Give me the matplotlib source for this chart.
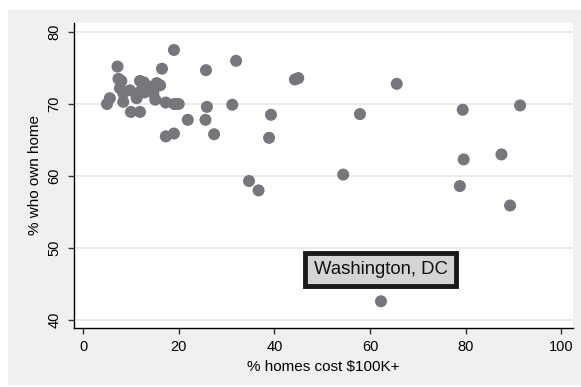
import matplotlib
matplotlib.use("Agg")
import matplotlib.pyplot as plt
from matplotlib.patches import Rectangle

# % homes cost $100K+ (x) and % who own home (y)
pct_homes_100k = [5.0, 5.6, 7.2, 7.4, 8.0, 7.7, 8.4, 8.4, 9.8, 10.0,
                  11.9, 11.9, 12.7, 11.2, 11.9, 14.0, 15.4, 16.1, 14.7, 15.1,
                  16.5, 17.3, 19.0, 19.1, 20.0, 17.3, 19.0, 21.9, 25.6, 25.9,
                  25.7, 27.4, 31.2, 32.0, 34.7, 36.7, 38.9, 39.3, 44.3, 45.0,
                  54.4, 57.9, 62.3, 65.6, 78.8, 79.4, 79.6, 87.5, 89.3, 91.4,
                  12.8]
pct_own_home = [70.0, 70.8, 75.2, 73.5, 73.2, 72.2, 71.5, 70.3, 71.9, 68.9,
                68.9, 73.2, 73.0, 70.8, 71.7, 72.4, 72.9, 72.6, 71.5, 70.6,
                74.9, 70.2, 77.5, 70.0, 70.0, 65.5, 65.9, 67.8, 67.8, 69.6,
                74.7, 65.8, 69.9, 76.0, 59.3, 58.0, 65.3, 68.5, 73.4, 73.6,
                60.2, 68.6, 42.6, 72.8, 58.6, 69.2, 62.3, 63.0, 55.9, 69.8,
                71.6]

label_text = "Washington, DC"
label_point = (62.3, 42.6)

x_ticks = [0, 20, 40, 60, 80, 100]
y_ticks = [40, 50, 60, 70, 80]

plt.rcParams['font.family'] = ['Liberation Sans', 'DejaVu Sans']

fig = plt.figure(figsize=(5.81, 3.87), dpi=100)
fig.patch.set_facecolor('white')
bg = Rectangle((8 / 581, 2 / 387), 573 / 581, 375 / 387, transform=fig.transFigure,
               facecolor='#eef0f2', edgecolor='none', zorder=-10)
fig.patches.append(bg)

ax = fig.add_axes([74 / 581, 1 - 327.7 / 387, (572.7 - 74) / 581, (327.7 - 23) / 387])
ax.set_facecolor('white')

ax.scatter(pct_homes_100k, pct_own_home, s=75, color='#76777d', edgecolors='none', zorder=3)

ax.set_xlim(-1.9, 102.4)
ax.set_ylim(38.93, 81.25)
ax.set_xticks(x_ticks)
ax.set_yticks(y_ticks)
ax.set_xticklabels([str(t) for t in x_ticks])
ax.set_yticklabels([str(t) for t in y_ticks], rotation=90, va='center')

for spine in ['top', 'right']:
    ax.spines[spine].set_visible(False)
for spine in ['left', 'bottom']:
    ax.spines[spine].set_linewidth(1.0)
    ax.spines[spine].set_color('black')

ax.yaxis.grid(True, color='#e9e9eb', linewidth=1.3)
ax.set_axisbelow(True)
ax.tick_params(axis='both', length=4.5, width=1.0, color='#333333', labelsize=10.5)
ax.tick_params(axis='y', pad=4.5)
ax.tick_params(axis='x', pad=4)

ax.set_xlabel('% homes cost $100K+', fontsize=11, labelpad=5)
ax.set_ylabel('% who own home', fontsize=11, labelpad=4)

ax.text(label_point[0] - 0.1, label_point[1] + 4.4, label_text, fontsize=13.3,
        ha='center', va='center', color='#111111', zorder=5,
        bbox=dict(boxstyle='square,pad=0.45', facecolor='#d4d4d6', edgecolor='#1a1a1a', linewidth=3.5))

fig.savefig('out.png', dpi=100, facecolor='white')
